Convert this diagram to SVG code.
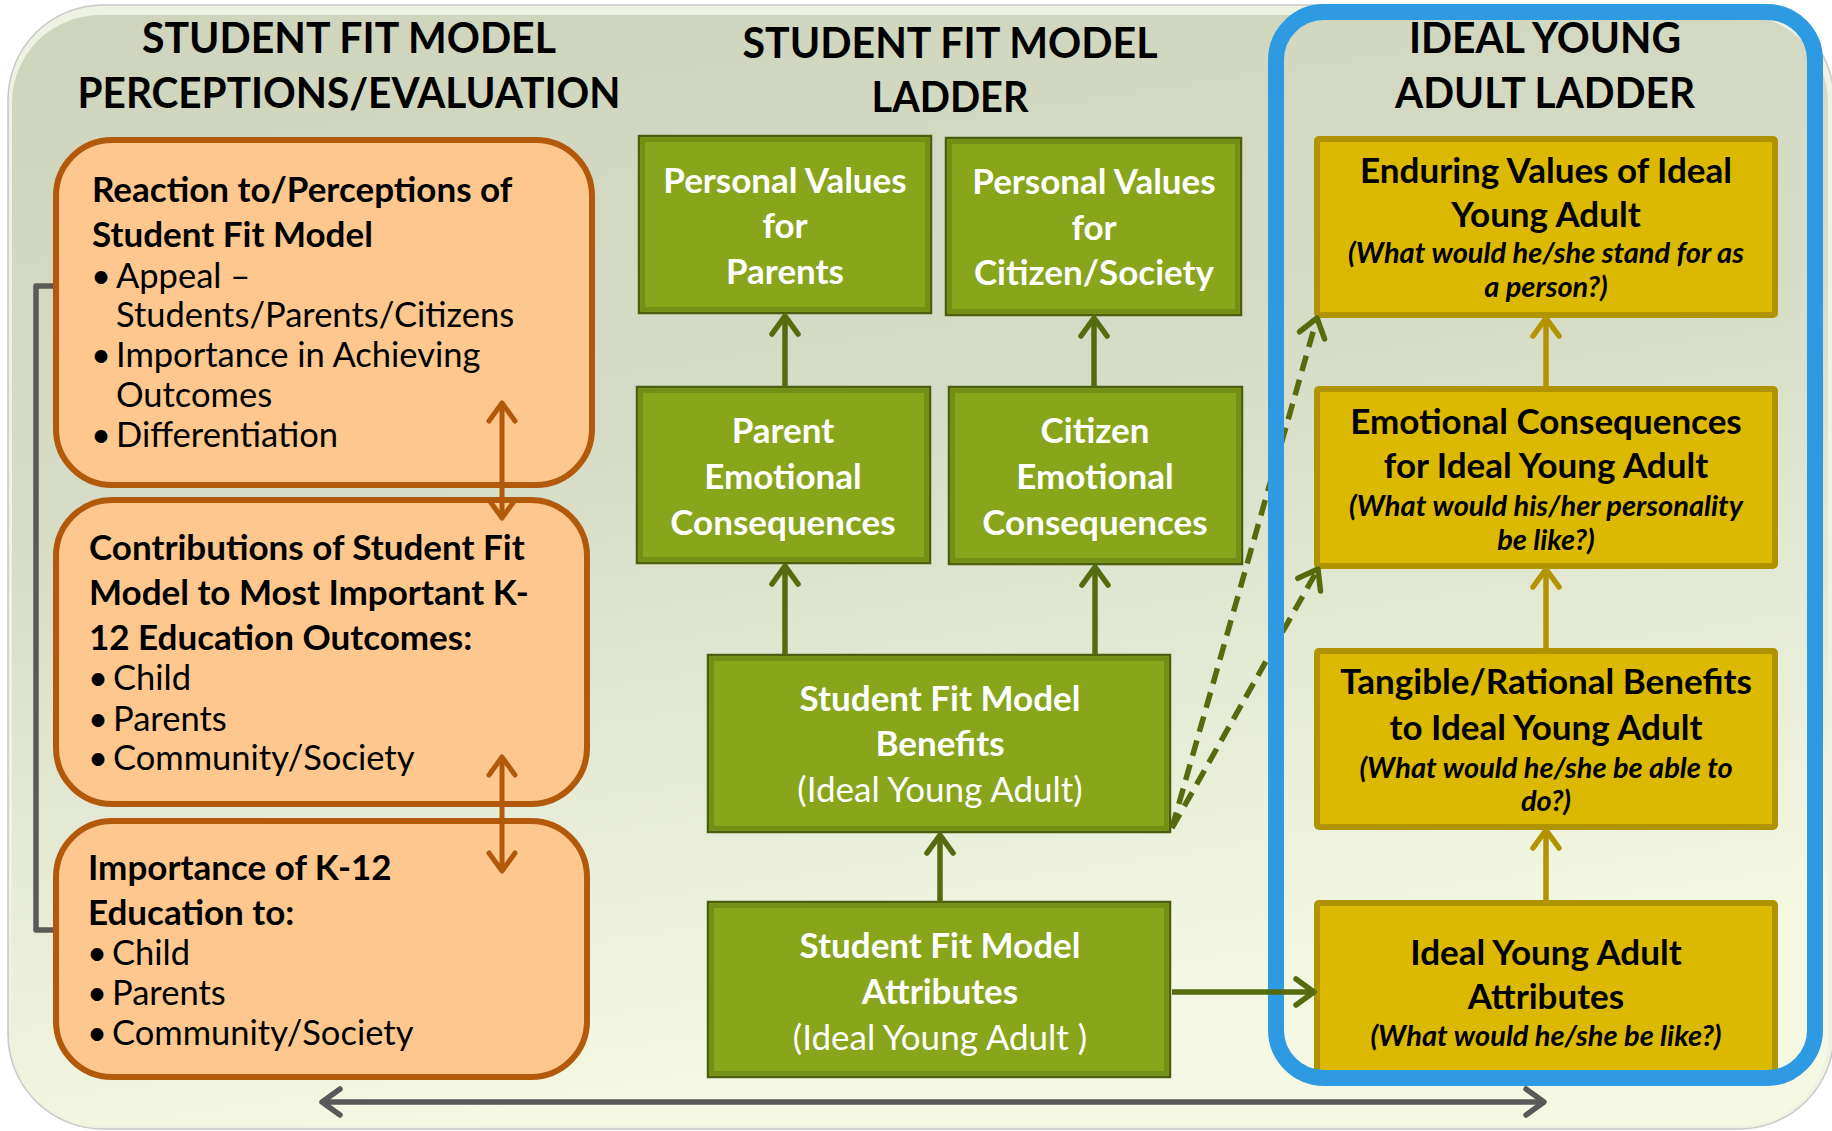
<svg xmlns="http://www.w3.org/2000/svg" width="1832" height="1131" viewBox="0 0 1832 1131">
<defs>
  <linearGradient id="bg" x1="0" y1="0" x2="0.25" y2="1">
    <stop offset="0" stop-color="#cfd5bc"/>
    <stop offset="0.45" stop-color="#d6dcc6"/>
    <stop offset="1" stop-color="#f5f9e4"/>
  </linearGradient>
  <marker id="mg" markerWidth="34" markerHeight="36" refX="25" refY="17" orient="auto-start-reverse" markerUnits="userSpaceOnUse">
    <path d="M7,4 L25,17 L7,30" fill="none" stroke="#566b0d" stroke-width="5.5" stroke-linecap="round" stroke-linejoin="round"/>
  </marker>
  <marker id="my" markerWidth="34" markerHeight="36" refX="25" refY="17" orient="auto-start-reverse" markerUnits="userSpaceOnUse">
    <path d="M7,4 L25,17 L7,30" fill="none" stroke="#b39400" stroke-width="5.5" stroke-linecap="round" stroke-linejoin="round"/>
  </marker>
  <marker id="mo" markerWidth="34" markerHeight="36" refX="25" refY="17" orient="auto-start-reverse" markerUnits="userSpaceOnUse">
    <path d="M7,4 L25,17 L7,30" fill="none" stroke="#b2590b" stroke-width="5" stroke-linecap="round" stroke-linejoin="round"/>
  </marker>
  <marker id="mk" markerWidth="34" markerHeight="36" refX="25" refY="17" orient="auto-start-reverse" markerUnits="userSpaceOnUse">
    <path d="M7,4 L25,17 L7,30" fill="none" stroke="#595959" stroke-width="5.5" stroke-linecap="round" stroke-linejoin="round"/>
  </marker>
</defs>
<style>
  text { font-family: Lato, "Liberation Sans", sans-serif; }
  .hdr { font-size: 42px; font-weight: 700; fill: #000; text-anchor: middle; }
  .ob { font-size: 35px; font-weight: 700; fill: #000; }
  .or { font-size: 34.5px; font-weight: 400; fill: #000; }
  .gw { font-size: 35px; font-weight: 700; fill: #fff; text-anchor: middle; }
  .gr { font-size: 35px; font-weight: 400; fill: #fff; text-anchor: middle; }
  .yb { font-size: 35px; font-weight: 700; fill: #000; text-anchor: middle; }
  .yi { font-size: 29px; font-weight: 700; font-style: italic; fill: #000; text-anchor: middle; }
  .obox { fill: #fdc78e; stroke: #b2590b; stroke-width: 6; }
  .gbox { fill: #89a51b; stroke: #4c5e10; stroke-width: 2.5; }
  .gin { fill: none; stroke: #738f16; stroke-width: 4; }
  .ybox { fill: #dbb900; stroke: #b09300; stroke-width: 6; }
  .cg { fill: none; stroke: #566b0d; stroke-width: 5.5; }
  .cy { fill: none; stroke: #b39400; stroke-width: 5.5; }
  .co { fill: none; stroke: #b2590b; stroke-width: 5; }
  .ck { fill: none; stroke: #595959; stroke-width: 5.5; }
</style>

<!-- background panel -->
<rect x="8" y="5" width="1826" height="1124" rx="95" fill="#eef2e2" stroke="#c8c8c8" stroke-width="1.5"/>
<rect x="12" y="15" width="1816" height="1111" rx="88" fill="url(#bg)"/>

<!-- headers -->
<g id="headers">
  <text class="hdr" x="349" y="53" textLength="414" lengthAdjust="spacingAndGlyphs">STUDENT FIT MODEL</text>
  <text class="hdr" x="349" y="108" textLength="543" lengthAdjust="spacingAndGlyphs">PERCEPTIONS/EVALUATION</text>
  <text class="hdr" x="950" y="58" textLength="415" lengthAdjust="spacingAndGlyphs">STUDENT FIT MODEL</text>
  <text class="hdr" x="950" y="112" textLength="157" lengthAdjust="spacingAndGlyphs">LADDER</text>
  <text class="hdr" x="1545" y="53" textLength="272" lengthAdjust="spacingAndGlyphs">IDEAL YOUNG</text>
  <text class="hdr" x="1545" y="108" textLength="300" lengthAdjust="spacingAndGlyphs">ADULT LADDER</text>
</g>

<!-- left column -->
<g id="perceptions">
  <rect class="obox" x="56" y="140" width="536" height="345" rx="56"/>
  <text class="ob" x="92" y="202">Reaction to/Perceptions of</text>
  <text class="ob" x="92" y="247">Student Fit Model</text>
  <text class="or" x="91" y="288">•</text><text class="or" x="116" y="288">Appeal –</text>
  <text class="or" x="116" y="327">Students/Parents/Citizens</text>
  <text class="or" x="91" y="367">•</text><text class="or" x="116" y="367">Importance in Achieving</text>
  <text class="or" x="116" y="407">Outcomes</text>
  <text class="or" x="91" y="447">•</text><text class="or" x="116" y="447">Differentiation</text>
</g>
<g id="contributions">
  <rect class="obox" x="56" y="500" width="531" height="304" rx="56"/>
  <text class="ob" x="89" y="560">Contributions of Student Fit</text>
  <text class="ob" x="89" y="605">Model to Most Important K-</text>
  <text class="ob" x="89" y="650">12 Education Outcomes:</text>
  <text class="or" x="88" y="690">•</text><text class="or" x="113" y="690">Child</text>
  <text class="or" x="88" y="731">•</text><text class="or" x="113" y="731">Parents</text>
  <text class="or" x="88" y="770">•</text><text class="or" x="113" y="770">Community/Society</text>
</g>
<g id="importance">
  <rect class="obox" x="56" y="821" width="531" height="256" rx="56"/>
  <text class="ob" x="88" y="880">Importance of K-12</text>
  <text class="ob" x="88" y="925">Education to:</text>
  <text class="or" x="87" y="965">•</text><text class="or" x="112" y="965">Child</text>
  <text class="or" x="87" y="1005">•</text><text class="or" x="112" y="1005">Parents</text>
  <text class="or" x="87" y="1045">•</text><text class="or" x="112" y="1045">Community/Society</text>
</g>

<!-- middle column -->
<g id="pv-parents">
  <rect class="gbox" x="639" y="136" width="292" height="177"/>
  <rect class="gin" x="643" y="140" width="284" height="169"/>
  <text class="gw" x="785" y="193">Personal Values</text>
  <text class="gw" x="785" y="238">for</text>
  <text class="gw" x="785" y="284">Parents</text>
</g>
<g id="pv-citizen">
  <rect class="gbox" x="946" y="138" width="295" height="177"/>
  <rect class="gin" x="950" y="142" width="287" height="169"/>
  <text class="gw" x="1094" y="194">Personal Values</text>
  <text class="gw" x="1094" y="240">for</text>
  <text class="gw" x="1094" y="285">Citizen/Society</text>
</g>
<g id="parent-emotional">
  <rect class="gbox" x="637" y="387" width="293" height="176"/>
  <rect class="gin" x="641" y="391" width="285" height="168"/>
  <text class="gw" x="783" y="443">Parent</text>
  <text class="gw" x="783" y="489">Emotional</text>
  <text class="gw" x="783" y="535">Consequences</text>
</g>
<g id="citizen-emotional">
  <rect class="gbox" x="949" y="387" width="293" height="177"/>
  <rect class="gin" x="953" y="391" width="285" height="169"/>
  <text class="gw" x="1095" y="443">Citizen</text>
  <text class="gw" x="1095" y="489">Emotional</text>
  <text class="gw" x="1095" y="535">Consequences</text>
</g>
<g id="sfm-benefits">
  <rect class="gbox" x="708" y="655" width="462" height="177"/>
  <rect class="gin" x="712" y="659" width="454" height="169"/>
  <text class="gw" x="940" y="711">Student Fit Model</text>
  <text class="gw" x="940" y="756">Benefits</text>
  <text class="gr" x="940" y="802">(Ideal Young Adult)</text>
</g>
<g id="sfm-attributes">
  <rect class="gbox" x="708" y="902" width="462" height="175"/>
  <rect class="gin" x="712" y="906" width="454" height="167"/>
  <text class="gw" x="940" y="958">Student Fit Model</text>
  <text class="gw" x="940" y="1004">Attributes</text>
  <text class="gr" x="940" y="1050">(Ideal Young Adult )</text>
</g>

<!-- right column -->
<g id="enduring-values">
  <rect class="ybox" x="1317" y="139" width="458" height="176" rx="2"/>
  <text class="yb" x="1546" y="183">Enduring Values of Ideal</text>
  <text class="yb" x="1546" y="227">Young Adult</text>
  <text class="yi" x="1546" y="263">(What would he/she stand for as</text>
  <text class="yi" x="1546" y="297">a person?)</text>
</g>
<g id="emotional-consequences">
  <rect class="ybox" x="1317" y="389" width="458" height="177" rx="2"/>
  <text class="yb" x="1546" y="434">Emotional Consequences</text>
  <text class="yb" x="1546" y="478">for Ideal Young Adult</text>
  <text class="yi" x="1546" y="516">(What would his/her personality</text>
  <text class="yi" x="1546" y="550">be like?)</text>
</g>
<g id="tangible-benefits">
  <rect class="ybox" x="1317" y="651" width="458" height="176" rx="2"/>
  <text class="yb" x="1546" y="694">Tangible/Rational Benefits</text>
  <text class="yb" x="1546" y="740">to Ideal Young Adult</text>
  <text class="yi" x="1546" y="778">(What would he/she be able to</text>
  <text class="yi" x="1546" y="811">do?)</text>
</g>
<g id="iya-attributes">
  <rect class="ybox" x="1317" y="903" width="458" height="170" rx="2"/>
  <text class="yb" x="1546" y="965">Ideal Young Adult</text>
  <text class="yb" x="1546" y="1009">Attributes</text>
  <text class="yi" x="1546" y="1046">(What would he/she be like?)</text>
</g>

<!-- connectors -->
<g id="connectors">
  <path class="cg" d="M1172,828 L1317,318" stroke-dasharray="16 9" stroke-width="6" marker-end="url(#mg)"/>
  <path class="cg" d="M1172,828 L1318,569" stroke-dasharray="16 9" stroke-width="6" marker-end="url(#mg)"/>
  <!-- ideal young adult ladder frame -->
  <rect x="1276" y="12" width="539" height="1066" rx="48" fill="none" stroke="#2e9ae2" stroke-width="16"/>
  <path class="cg" d="M1172,992 L1314,992" marker-end="url(#mg)"/>
  <path class="cg" d="M785,387 L785,316" marker-end="url(#mg)"/>
  <path class="cg" d="M1094,387 L1094,318" marker-end="url(#mg)"/>
  <path class="cg" d="M785,655 L785,566" marker-end="url(#mg)"/>
  <path class="cg" d="M1095,655 L1095,567" marker-end="url(#mg)"/>
  <path class="cg" d="M940,902 L940,835" marker-end="url(#mg)"/>
  <path class="cy" d="M1546,389 L1546,318" marker-end="url(#my)"/>
  <path class="cy" d="M1546,651 L1546,569" marker-end="url(#my)"/>
  <path class="cy" d="M1546,903 L1546,830" marker-end="url(#my)"/>
  <path class="co" d="M502,403 L502,518" marker-start="url(#mo)" marker-end="url(#mo)"/>
  <path class="co" d="M502,757 L502,871" marker-start="url(#mo)" marker-end="url(#mo)"/>
  <path class="ck" d="M53,286 L36,286 L36,930 L53,930" stroke-width="4.5" stroke-linejoin="round"/>
  <path class="ck" d="M322,1102 L1544,1102" marker-start="url(#mk)" marker-end="url(#mk)"/>
</g>
</svg>
